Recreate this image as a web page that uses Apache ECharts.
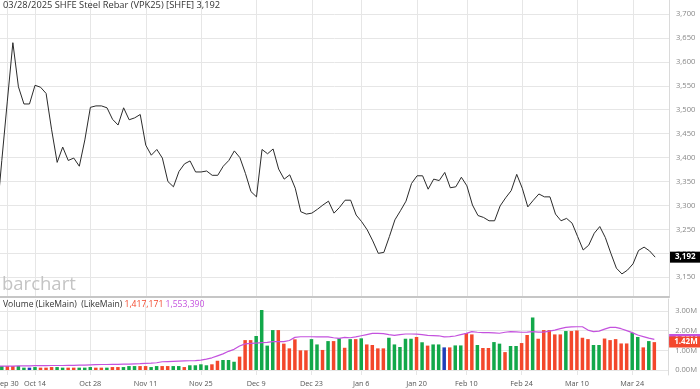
<!DOCTYPE html>
<html>
<head>
<meta charset="utf-8">
<script src="https://cdn.jsdelivr.net/npm/echarts@6/dist/echarts.min.js"></script>
<style>html,body{margin:0;padding:0;background:#fff;}#c{width:700px;height:389px;}</style>
</head>
<body>
<div id="c"></div>
<script>
// Trading days (SHFE), Sep 26 2024 .. Mar 28 2025
const dates = [
 'Sep 26','Sep 27','Sep 30',
 'Oct 8','Oct 9','Oct 10','Oct 11',
 'Oct 14','Oct 15','Oct 16','Oct 17','Oct 18',
 'Oct 21','Oct 22','Oct 23','Oct 24','Oct 25',
 'Oct 28','Oct 29','Oct 30','Oct 31','Nov 1',
 'Nov 4','Nov 5','Nov 6','Nov 7','Nov 8',
 'Nov 11','Nov 12','Nov 13','Nov 14','Nov 15',
 'Nov 18','Nov 19','Nov 20','Nov 21','Nov 22',
 'Nov 25','Nov 26','Nov 27','Nov 28','Nov 29',
 'Dec 2','Dec 3','Dec 4','Dec 5','Dec 6',
 'Dec 9','Dec 10','Dec 11','Dec 12','Dec 13',
 'Dec 16','Dec 17','Dec 18','Dec 19','Dec 20',
 'Dec 23','Dec 24','Dec 25','Dec 26','Dec 27',
 'Dec 30','Dec 31','Jan 2','Jan 3',
 'Jan 6','Jan 7','Jan 8','Jan 9','Jan 10',
 'Jan 13','Jan 14','Jan 15','Jan 16','Jan 17',
 'Jan 20','Jan 21','Jan 22','Jan 23','Jan 24',
 'Jan 27','Feb 5','Feb 6','Feb 7',
 'Feb 10','Feb 11','Feb 12','Feb 13','Feb 14',
 'Feb 17','Feb 18','Feb 19','Feb 20','Feb 21',
 'Feb 24','Feb 25','Feb 26','Feb 27','Feb 28',
 'Mar 3','Mar 4','Mar 5','Mar 6','Mar 7',
 'Mar 10','Mar 11','Mar 12','Mar 13','Mar 14',
 'Mar 17','Mar 18','Mar 19','Mar 20','Mar 21',
 'Mar 24','Mar 25','Mar 26','Mar 27','Mar 28'
];

const closes = [3265,
 3394,3518,3640,3548,3512,3512,3551,3547,3534,3458,
 3390,3422,3394,3399,3382,3437,3505,3508,3508,3504,
 3480,3468,3504,3479,3483,3490,3426,3405,3417,3399,
 3350,3339,3371,3387,3393,3370,3370,3372,3363,3363,
 3382,3394,3414,3400,3367,3329,3318,3417,3408,3418,
 3376,3355,3364,3336,3287,3282,3284,3292,3301,3309,
 3284,3296,3311,3311,3280,3266,3249,3226,3200,3202,
 3235,3270,3289,3309,3346,3362,3362,3334,3355,3352,
 3369,3337,3339,3359,3341,3301,3279,3275,3268,3268,
 3299,3316,3331,3365,3336,3297,3311,3324,3318,3318,
 3282,3268,3273,3263,3235,3207,3217,3242,3256,3233,
 3200,3169,3157,3165,3178,3206,3213,3205,3192];

// volume in millions of contracts
const volumes = [0.2,
 0.2,0.2,0.2,0.2,0.12,0.12,0.15,0.12,0.12,0.15,
 0.15,0.12,0.12,0.12,0.12,0.12,0.15,0.12,0.12,0.12,
 0.15,0.15,0.15,0.2,0.2,0.2,0.2,0.15,0.2,0.2,
 0.2,0.2,0.2,0.15,0.24,0.24,0.29,0.24,0.29,0.47,
 0.51,0.51,0.42,0.68,1.52,1.52,1.73,3.05,1.24,2.03,
 2.03,1.34,1.10,1.56,1.0,1.0,1.57,1.30,1.02,1.47,
 1.47,1.61,1.13,1.57,1.57,1.61,1.30,1.27,1.10,1.10,
 1.64,1.30,1.17,1.59,1.59,1.68,1.41,1.24,1.30,1.30,
 1.15,1.15,1.25,1.25,1.88,1.81,1.27,1.12,1.12,1.42,
 1.34,0.91,1.22,1.22,1.37,1.78,2.67,1.59,2.03,2.03,
 1.81,1.81,1.98,1.98,2.01,1.64,1.57,1.27,1.27,1.60,
 1.52,1.57,1.35,1.35,1.89,1.68,1.15,1.47,1.417171];

// u = up (green), d = down (red), f = unchanged (blue)
const volumeDirection = ['u',
 'u','d','d','u','u','f','u','d','d','d',
 'u','u','d','d','u','u','u','d','d','u',
 'd','d','u','u','u','d','d','u','u','d',
 'd','u','u','d','u','u','u','u','d','d',
 'u','u','u','d','d','d','u','u','u','u',
 'd','d','d','d','d','d','u','u','d','u',
 'd','u','d','u','d','u','d','d','d','d',
 'u','u','u','u','u','d','u','d','u','u',
 'f','d','u','u','d','d','u','d','d','u',
 'u','d','u','u','d','d','u','d','d','d',
 'd','d','u','d','d','d','d','u','u','d',
 'd','d','d','d','u','u','d','u','d'];

// volume moving average (millions)
const volumeAvg = [0.2,
 0.2,0.2,0.2,0.21,0.21,0.21,0.22,0.22,0.22,0.23,
 0.23,0.23,0.24,0.24,0.25,0.25,0.26,0.27,0.28,0.28,
 0.29,0.29,0.30,0.30,0.31,0.32,0.34,0.35,0.37,0.42,
 0.43,0.44,0.45,0.46,0.47,0.48,0.50,0.55,0.62,0.72,
 0.82,0.95,1.05,1.22,1.33,1.35,1.37,1.39,1.40,1.44,
 1.44,1.44,1.50,1.66,1.69,1.69,1.69,1.68,1.68,1.68,
 1.64,1.61,1.66,1.64,1.68,1.74,1.80,1.86,1.86,1.85,
 1.80,1.76,1.80,1.83,1.83,1.82,1.80,1.76,1.75,1.74,
 1.68,1.70,1.73,1.80,1.86,1.95,1.92,1.90,1.90,1.89,
 1.87,1.92,1.95,1.94,1.92,1.93,1.95,1.93,1.93,1.98,
 2.03,2.10,2.17,2.19,2.20,2.20,2.03,1.95,1.98,2.08,
 2.17,2.17,2.10,2.00,1.90,1.78,1.70,1.62,1.55339];

const xTickLabels = ['Sep 30','Oct 14','Oct 28','Nov 11','Nov 25','Dec 9','Dec 23','Jan 6','Jan 20','Feb 10','Feb 24','Mar 10','Mar 24'];
const priceTicks = [3150,3200,3250,3300,3350,3400,3450,3500,3550,3600,3650,3700];
const volumeTicks = [0,1,2,3];

const titleText = '03/28/2025 SHFE Steel Rebar (VPK25) [SHFE] 3,192';
const volumeTitle = 'Volume (LikeMain)  (LikeMain)';
const volumeLastText = '1,417,171';
const volumeAvgText = '1,553,390';

const FONT = 'Open Sans';
const GREEN = '#12a84a', RED = '#f3472b', BLUE = '#1f3fb8', PURPLE = '#c452de';
const GRID_LINE = '#e6e6e6';
const X_LABEL_SIZE = 7.3, X_LABEL_COLOR = '#555', X_LABEL_MARGIN = 5;
const Y_LABEL_SIZE = 7.6;
const VOL_TITLE_SIZE = 8.6;

const xTickValues = xTickLabels.map(l => dates.indexOf(l));
const fmtComma = v => Math.round(v).toLocaleString('en-US');

const chart = echarts.init(document.getElementById('c'), null, {renderer: 'canvas'});
const last = closes.length - 1;
const VOL_GRID = {left: 0, right: 31, top: 299, height: 76};

const xCommon = {
  type: 'value', min: 0.675, max: 121.5,
  axisTick: {show: false, customValues: xTickValues},
  splitLine: {show: true, lineStyle: {color: GRID_LINE, width: 1}}
};

const tagLabel = (text, bg) => ({show: true, position: 'end', distance: 1, formatter: text,
  opacity: 1, color: '#fff', fontFamily: FONT, fontWeight: 'bold', fontSize: 8,
  backgroundColor: bg, padding: [2, 5, 1, 5]});
const hiddenLine = {color: 'rgba(0,0,0,0)', width: 1, opacity: 1};

chart.setOption({
  animation: false,
  backgroundColor: '#fff',
  title: [
    {text: titleText, left: 3, top: 1, padding: 0,
     textStyle: {fontFamily: FONT, fontSize: 9.3, fontWeight: 'normal', color: '#333'}},
    {text: '{a|' + volumeTitle + '} {b|' + volumeLastText + '} {c|' + volumeAvgText + '}',
     left: 3, top: 300.5, padding: 0,
     textStyle: {fontFamily: FONT, fontSize: VOL_TITLE_SIZE, fontWeight: 'normal',
       rich: {a: {color: '#333', fontFamily: FONT, fontSize: VOL_TITLE_SIZE},
              b: {color: RED, fontFamily: FONT, fontSize: VOL_TITLE_SIZE},
              c: {color: PURPLE, fontFamily: FONT, fontSize: VOL_TITLE_SIZE}}}}
  ],
  grid: [
    {left: 0, right: 31, top: 0, height: 297},
    VOL_GRID
  ],
  xAxis: [
    Object.assign({}, xCommon, {gridIndex: 0,
      axisLabel: {show: false},
      axisLine: {show: true, onZero: false, lineStyle: {color: '#c6c6c6', width: 2}}}),
    Object.assign({}, xCommon, {gridIndex: 1,
      axisLine: {show: false},
      axisLabel: {show: true, customValues: xTickValues.slice(1), margin: X_LABEL_MARGIN,
        hideOverlap: false, fontFamily: FONT, fontSize: X_LABEL_SIZE, color: X_LABEL_COLOR,
        formatter: v => dates[Math.round(v)]}})
  ],
  yAxis: [
    {type: 'value', gridIndex: 0, position: 'right', min: 3108.8, max: 3729.2,
     axisLine: {show: true, lineStyle: {color: '#dadada'}},
     axisTick: {show: false, customValues: priceTicks},
     splitLine: {show: true, lineStyle: {color: GRID_LINE}},
     axisLabel: {show: true, customValues: priceTicks, margin: 7, fontFamily: FONT,
       fontSize: Y_LABEL_SIZE, color: '#888', formatter: v => fmtComma(v)}},
    {type: 'value', gridIndex: 1, position: 'right', min: -0.254, max: 3.61,
     axisLine: {show: true, lineStyle: {color: '#dadada'}},
     axisTick: {show: false, customValues: volumeTicks},
     splitLine: {show: true, lineStyle: {color: GRID_LINE}},
     axisLabel: {show: true, customValues: volumeTicks, margin: 7, fontFamily: FONT,
       fontSize: Y_LABEL_SIZE, color: '#888', formatter: v => v.toFixed(2) + 'M'}}
  ],
  series: [
    {type: 'line', name: 'price', xAxisIndex: 0, yAxisIndex: 0, clip: false,
     data: closes.map((v, i) => [i, v]),
     showSymbol: false, symbol: 'none',
     lineStyle: {color: '#2b2b2b', width: 1}, z: 3,
     markLine: {silent: true, symbol: ['none', 'none'], animation: false,
       lineStyle: hiddenLine,
       data: [{yAxis: closes[last], lineStyle: hiddenLine, label: tagLabel(fmtComma(closes[last]), '#000')}]}},
    {type: 'bar', name: 'volume', xAxisIndex: 1, yAxisIndex: 1, barWidth: 3.5, clip: false,
     data: volumes.map((v, i) => ({value: [i, v],
       itemStyle: {color: volumeDirection[i] === 'u' ? GREEN : (volumeDirection[i] === 'd' ? RED : BLUE)}})),
     z: 2,
     markLine: {silent: true, symbol: ['none', 'none'], animation: false,
       lineStyle: hiddenLine,
       data: [
         {yAxis: volumeAvg[last], lineStyle: hiddenLine, label: tagLabel(volumeAvg[last].toFixed(2) + 'M', PURPLE)},
         {yAxis: volumes[last], lineStyle: hiddenLine, label: tagLabel(volumes[last].toFixed(2) + 'M', RED)}
       ]}},
    {type: 'line', name: 'volAvg', xAxisIndex: 1, yAxisIndex: 1, clip: false,
     data: volumeAvg.map((v, i) => [i, v]),
     showSymbol: false, symbol: 'none', z: 4,
     lineStyle: {color: PURPLE, width: 1.2}}
  ]
});

// The first date label sits on the left edge and is partly cut off, as in the original;
// it is placed through the axis scale (ECharts would otherwise push it inside the canvas).
const firstX = chart.convertToPixel({xAxisIndex: 1}, xTickValues[0]);
chart.setOption({
  graphic: [
    {type: 'text', left: 2, top: 275, z: 0,
     style: {text: 'barchart', fontFamily: FONT, fontSize: 18.5, fill: '#c4c4c4'}},
    {type: 'text', x: firstX, y: VOL_GRID.top + VOL_GRID.height + X_LABEL_MARGIN, z: 5,
     style: {text: xTickLabels[0], fontFamily: FONT, fontSize: X_LABEL_SIZE, fill: X_LABEL_COLOR,
       align: 'center', verticalAlign: 'top'}}
  ]
});
</script>
</body>
</html>
